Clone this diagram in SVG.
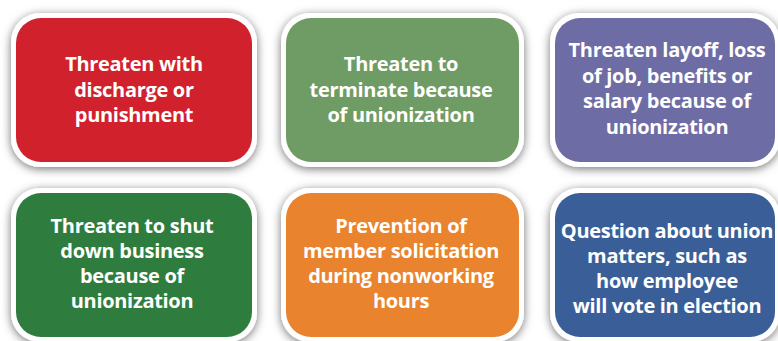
<svg xmlns="http://www.w3.org/2000/svg" width="778" height="341" viewBox="0 0 778 341">
<defs>
<filter id="sh" x="-20%" y="-20%" width="140%" height="140%">
<feDropShadow dx="0" dy="2" stdDeviation="5" flood-color="#000" flood-opacity="0.55"/>
</filter>
<style>
.frame{fill:#fff;filter:url(#sh)}
.t{font-family:"Open Sans","Liberation Sans",sans-serif;font-weight:700;font-size:20px;letter-spacing:-0.3px;fill:#fff;text-anchor:middle}
</style>
</defs>
<rect width="778" height="341" fill="#fff"/>
<g id="node1">
<rect class="frame" x="11" y="13" width="246" height="154" rx="29"/>
<rect x="16" y="18" width="236" height="144" rx="25" fill="#D0212D"/>
<text class="t"><tspan x="134" y="71">Threaten with</tspan><tspan x="134" y="96.5">discharge or</tspan><tspan x="134" y="122">punishment</tspan></text>
</g>
<g id="node2">
<rect class="frame" x="281" y="13" width="243" height="154" rx="29"/>
<rect x="286" y="18" width="233" height="144" rx="25" fill="#6F9B64"/>
<text class="t"><tspan x="401" y="71">Threaten to</tspan><tspan x="401" y="96.5">terminate because</tspan><tspan x="401" y="122">of unionization</tspan></text>
</g>
<g id="node3">
<rect class="frame" x="550" y="13" width="230" height="154" rx="29"/>
<rect x="555" y="18" width="220" height="144" rx="25" fill="#6E6CA5"/>
<text class="t"><tspan x="667" y="57">Threaten layoff, loss</tspan><tspan x="667" y="82.5">of job, benefits or</tspan><tspan x="667" y="108">salary because of</tspan><tspan x="667" y="133.5">unionization</tspan></text>
</g>
<g id="node4">
<rect class="frame" x="11" y="188" width="246" height="154" rx="29"/>
<rect x="16" y="193" width="236" height="144" rx="25" fill="#2E7D3E"/>
<text class="t"><tspan x="132" y="233">Threaten to shut</tspan><tspan x="132" y="258">down business</tspan><tspan x="132" y="283">because of</tspan><tspan x="132" y="308">unionization</tspan></text>
</g>
<g id="node5">
<rect class="frame" x="281" y="188" width="243" height="154" rx="29"/>
<rect x="286" y="193" width="233" height="144" rx="25" fill="#E9832D"/>
<text class="t"><tspan x="401" y="233">Prevention of</tspan><tspan x="401" y="258">member solicitation</tspan><tspan x="401" y="283">during nonworking</tspan><tspan x="401" y="308">hours</tspan></text>
</g>
<g id="node6">
<rect class="frame" x="550" y="188" width="230" height="154" rx="29"/>
<rect x="555" y="193" width="220" height="144" rx="25" fill="#3A5F98"/>
<text class="t"><tspan x="667" y="238">Question about union</tspan><tspan x="667" y="263">matters, such as</tspan><tspan x="667" y="288">how employee</tspan><tspan x="667" y="313">will vote in election</tspan></text>
</g>
<g id="connectors"/>
</svg>
